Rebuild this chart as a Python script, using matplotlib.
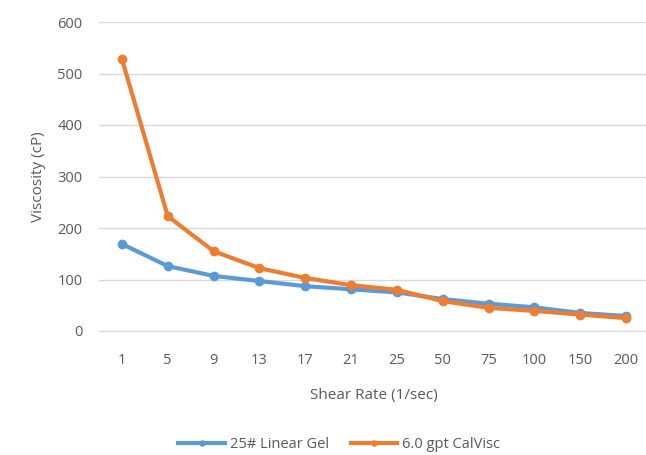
import numpy as np
import matplotlib.pyplot as plt

# Data
shear_rates = ['1', '5', '9', '13', '17', '21', '25', '50', '75', '100', '150', '200']
linear_gel = [169, 126, 107, 97, 87, 81, 75, 62, 53, 46, 35, 29]
calvisc = [528, 223, 155, 122, 103, 89, 80, 58, 45, 39, 32, 25]

blue = '#5B9BD5'
orange = '#ED7D31'
text_gray = '#595959'

plt.rcParams['font.family'] = ['Open Sans', 'DejaVu Sans']

fig = plt.figure(figsize=(6.46, 4.55), dpi=100)
# plot area runs a little past the right edge, like the reference
ax = fig.add_axes([99 / 646, 1 - 331 / 455, 550 / 646, 309 / 455])

x = np.arange(len(shear_rates))
ax.plot(x, linear_gel, color=blue, lw=3, marker='o', ms=6, label='25# Linear Gel')
ax.plot(x, calvisc, color=orange, lw=3, marker='o', ms=6, label='6.0 gpt CalVisc')

ax.set_xlim(-0.5, len(shear_rates) - 0.5)
ax.set_ylim(0, 600)
ax.set_yticks(range(0, 601, 100))
ax.set_xticks(x)
ax.set_xticklabels(shear_rates)

ax.grid(axis='y', color='#D9D9D9', lw=1)
ax.set_axisbelow(True)
for s in ['top', 'right', 'left']:
    ax.spines[s].set_visible(False)
ax.spines['bottom'].set_color('#D9D9D9')
ax.tick_params(length=0, labelsize=10.5, colors=text_gray)
ax.tick_params(axis='x', pad=16)
ax.tick_params(axis='y', pad=12)

ax.set_xlabel('Shear Rate (1/sec)', fontsize=11, color=text_gray, labelpad=14)
ax.set_ylabel('Viscosity (cP)', fontsize=11, color=text_gray, labelpad=8)

ax.legend(loc='center', bbox_to_anchor=(240 / 550, -114 / 309), ncol=2, frameon=False,
          fontsize=10.5, labelcolor=text_gray, handlelength=3.2, markerscale=0.6,
          columnspacing=1.5, handletextpad=0.3)

fig.savefig('out.png', dpi=100)
